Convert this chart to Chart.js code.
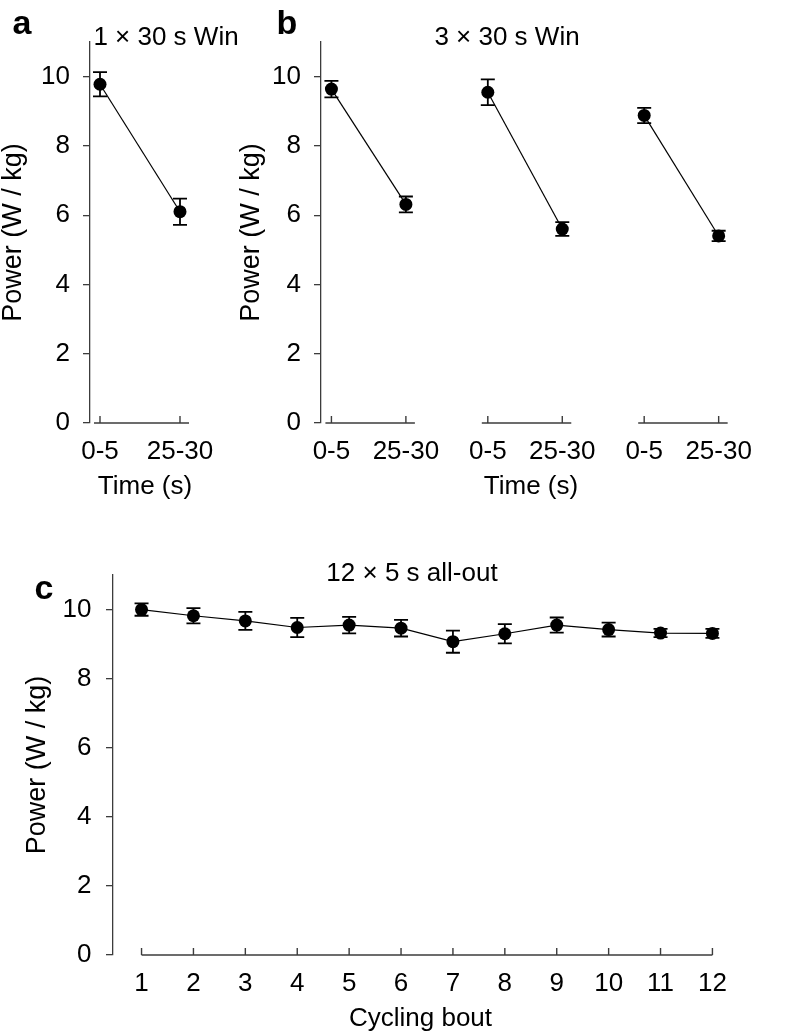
<!DOCTYPE html>
<html lang="en">
<head>
    <meta charset="UTF-8">
    <title>Power output during sprint protocols</title>
    <script src="https://cdn.jsdelivr.net/npm/chart.js"></script>
    <style>
        body { margin: 0; background: #fff; }
        #page {
            position: relative;
            width: 786px;
            height: 1035px;
            font-family: "Liberation Sans", Arial, sans-serif;
            color: #000;
        }
        canvas { position: absolute; }
        .title { position: absolute; transform: translate(-50%, -50%); white-space: nowrap; font-size: 26px; line-height: 26px; }
        .letter { position: absolute; transform: translate(-50%, -50%); font-size: 34px; line-height: 34px; font-weight: bold; }
    </style>
</head>
<body>
<div id="page">
    <canvas id="chartA" width="260" height="520" style="left:0;top:0"></canvas>
    <canvas id="chartB" width="548" height="520" style="left:238px;top:0"></canvas>
    <canvas id="chartC" width="786" height="515" style="left:0;top:520px"></canvas>

    <div class="letter" style="left:22px;top:22px">a</div>
    <div class="title" style="left:166px;top:36px">1 × 30 s Win</div>
    <div class="letter" style="left:287px;top:22px">b</div>
    <div class="title" style="left:507px;top:36px">3 × 30 s Win</div>
    <div class="letter" style="left:44px;top:587px">c</div>
    <div class="title" style="left:412px;top:572px">12 × 5 s all-out</div>
</div>

<script>
    // ---- data (mean and SEM, W/kg) ----
    const windowLabels = ['0-5', '25-30'];

    const singleWinMean = [9.78, 6.10];
    const singleWinSem = [0.35, 0.38];

    const tripleWin1Mean = [9.64, 6.31];
    const tripleWin1Sem = [0.24, 0.23];
    const tripleWin2Mean = [9.55, 5.60];
    const tripleWin2Sem = [0.37, 0.20];
    const tripleWin3Mean = [8.88, 5.40];
    const tripleWin3Sem = [0.22, 0.15];

    const boutLabels = ['1', '2', '3', '4', '5', '6', '7', '8', '9', '10', '11', '12'];
    const sprintMean = [10.00, 9.82, 9.67, 9.48, 9.55, 9.46, 9.07, 9.30, 9.55, 9.42, 9.32, 9.31];
    const sprintSem = [0.18, 0.22, 0.26, 0.28, 0.24, 0.24, 0.32, 0.28, 0.22, 0.20, 0.12, 0.13];

    const powerTicks = [0, 2, 4, 6, 8, 10];

    // ---- styling ----
    const fontFamily = '"Liberation Sans", Arial, sans-serif';
    const tickFont = { family: fontFamily, size: 26 };
    const titleFont = { family: fontFamily, size: 26, lineHeight: 1 };
    const yTitleFont = { family: fontFamily, size: 27, lineHeight: 1 };
    const axisColor = '#3c3c3c';
    const groupGap = 2.1; // spacing between the three Wingate bouts in panel b

    // error bars drawn from each dataset's "errors" array
    const errorBarPlugin = {
        id: 'errorBars',
        afterDatasetsDraw(chart) {
            const { ctx, scales: { x, y } } = chart;
            ctx.save();
            ctx.strokeStyle = '#000';
            ctx.lineWidth = 1.8;
            chart.data.datasets.forEach(ds => {
                ds.data.forEach((pt, i) => {
                    const px = x.getPixelForValue(pt.x);
                    const top = y.getPixelForValue(pt.y + ds.errors[i]);
                    const bot = y.getPixelForValue(pt.y - ds.errors[i]);
                    ctx.beginPath();
                    ctx.moveTo(px, top); ctx.lineTo(px, bot);
                    ctx.moveTo(px - 7, top); ctx.lineTo(px + 7, top);
                    ctx.moveTo(px - 7, bot); ctx.lineTo(px + 7, bot);
                    ctx.stroke();
                });
            });
            ctx.restore();
        }
    };

    // detached x axis: one line per group with small upward ticks
    const splitAxisPlugin = {
        id: 'splitAxis',
        beforeDatasetsDraw(chart, args, opts) {
            const { ctx, scales: { x, y } } = chart;
            const base = y.getPixelForValue(0);
            ctx.save();
            ctx.strokeStyle = axisColor;
            ctx.lineWidth = 1.4;
            opts.groups.forEach(g => {
                const x0 = x.getPixelForValue(g[0]) - opts.padStart;
                const x1 = x.getPixelForValue(g[g.length - 1]) + opts.padEnd;
                ctx.beginPath();
                ctx.moveTo(x0, base); ctx.lineTo(x1, base);
                g.forEach(v => {
                    const px = x.getPixelForValue(v);
                    ctx.moveTo(px, base); ctx.lineTo(px, base - 7);
                });
                ctx.stroke();
            });
            ctx.restore();
        }
    };

    function series(xs, means, sems) {
        return {
            data: means.map((m, i) => ({ x: xs[i], y: m })),
            errors: sems,
            borderColor: '#000',
            borderWidth: 1.2,
            pointRadius: 6.5,
            pointBackgroundColor: '#000',
            pointBorderWidth: 0,
            fill: false,
            tension: 0
        };
    }

    function powerScale(width, labelPad) {
        return {
            min: 0,
            max: 11,
            afterFit(s) { s.width = width; },
            afterBuildTicks(s) { s.ticks = powerTicks.map(v => ({ value: v })); },
            border: { display: true, color: axisColor, width: 1.3 },
            grid: { drawOnChartArea: false, drawTicks: true, tickLength: 7, color: axisColor, lineWidth: 1.3 },
            ticks: { font: tickFont, color: '#000', padding: labelPad },
            title: { display: true, text: 'Power (W / kg)', font: yTitleFont, color: '#000', padding: 0 }
        };
    }

    function categoryScale(min, max, values, labels, height, titleText, titlePad) {
        return {
            type: 'linear',
            min: min,
            max: max,
            afterFit(s) { s.height = height; },
            afterBuildTicks(s) { s.ticks = values.map(v => ({ value: v })); },
            grid: { display: false, drawTicks: false },
            border: { display: false },
            ticks: {
                font: tickFont, color: '#000', padding: 13,
                maxRotation: 0, autoSkip: false,
                callback: (v, i) => labels[i]
            },
            title: { display: true, text: titleText, font: titleFont, color: '#000', padding: { top: 0, bottom: titlePad } }
        };
    }

    function makeChart(id, datasets, xScale, yScale, padding, groups, padStart, padEnd) {
        return new Chart(document.getElementById(id), {
            type: 'line',
            data: { datasets: datasets },
            options: {
                responsive: false,
                animation: false,
                layout: { padding: padding },
                scales: { x: xScale, y: yScale },
                plugins: {
                    legend: { display: false },
                    tooltip: { enabled: false },
                    splitAxis: { groups: groups, padStart: padStart, padEnd: padEnd }
                }
            },
            plugins: [splitAxisPlugin, errorBarPlugin]
        });
    }

    // panel a
    const xsA = [0, 1];
    makeChart('chartA',
        [series(xsA, singleWinMean, singleWinSem)],
        categoryScale(-0.125, 1.25, xsA, windowLabels, 97, 'Time (s)', 20),
        powerScale(90, 13),
        { top: 42, left: 0, right: 60, bottom: 0 },
        [xsA], 6, 9);

    // panel b
    const xsB = [0, 1, 2].map(g => [g * groupGap, g * groupGap + 1]);
    makeChart('chartB',
        [series(xsB[0], tripleWin1Mean, tripleWin1Sem),
         series(xsB[1], tripleWin2Mean, tripleWin2Sem),
         series(xsB[2], tripleWin3Mean, tripleWin3Sem)],
        categoryScale(-0.14, 5.5, xsB.flat(), windowLabels.concat(windowLabels, windowLabels), 97, 'Time (s)', 20),
        powerScale(83, 13),
        { top: 42, left: 0, right: 45, bottom: 0 },
        xsB, 6, 9);

    // panel c
    const xsC = boutLabels.map(Number);
    makeChart('chartC',
        [series(xsC, sprintMean, sprintSem)],
        categoryScale(0.45, 12.3, xsC, boutLabels, 80, 'Cycling bout', 3),
        powerScale(89, 14.5),
        { top: 55, left: 24, right: 58, bottom: 0 },
        [xsC], 0, 0);
</script>
</body>
</html>
